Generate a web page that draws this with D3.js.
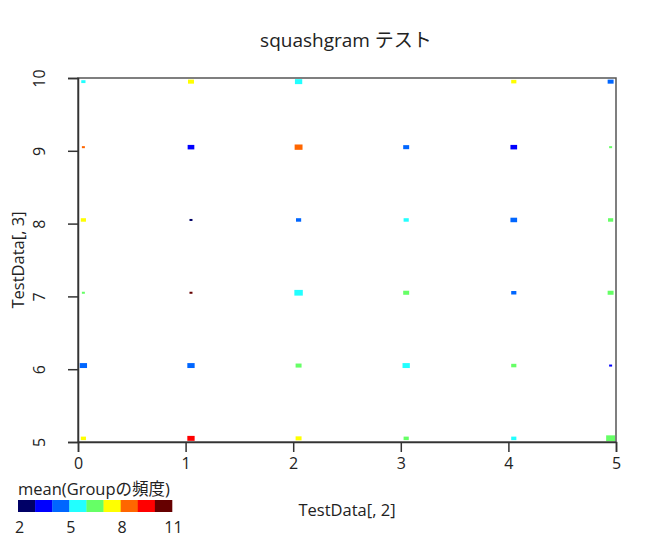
<!DOCTYPE html>
<html>
<head>
<meta charset="utf-8">
<script src="https://cdn.jsdelivr.net/npm/d3@7"></script>
<style>
  html, body { margin: 0; padding: 0; background: #fff; }
  svg { display: block; }
  text { font-family: "Open Sans", "Noto Sans CJK JP", sans-serif; fill: #222; }
</style>
</head>
<body>
<svg id="chart" width="657" height="541"></svg>
<script>
// ---- data ----
const titleText = "squashgram テスト";
const xLabel = "TestData[, 2]";
const yLabel = "TestData[, 3]";
const legendTitle = "mean(Groupの頻度)";

const xTicks = [0, 1, 2, 3, 4, 5];
const yTicks = [5, 6, 7, 8, 9, 10];
const legendBreaks = [2, 3, 4, 5, 6, 7, 8, 9, 10, 11];
const legendLabels = [2, 5, 8, 11];
const palette = ["#000066", "#0000FF", "#0066FF", "#22FFFF", "#66FF66",
                 "#FFFF00", "#FF6600", "#FF0000", "#660000"];

// one entry per occupied bin
const binX     = [0, 1, 2, 4, 5,   0, 1, 2, 3, 4, 5,   0, 1, 2, 3, 4, 5,   0, 1, 2, 3, 4, 5,   0, 1, 2, 3, 4, 5,   0, 1, 2, 3, 4, 5];
const binY     = [10,10,10,10,10,  9, 9, 9, 9, 9, 9,   8, 8, 8, 8, 8, 8,   7, 7, 7, 7, 7, 7,   6, 6, 6, 6, 6, 6,   5, 5, 5, 5, 5, 5];
const binCount = [2, 4, 6, 3, 4,   1, 5, 7, 4, 5, 1,   3, 1, 3, 3, 5, 3,   1, 1, 8, 4, 3, 4,   6, 6, 4, 6, 3, 1,   3, 6, 4, 3, 3, 9];
const binMean  = [5.5,7.5,5.5,7.5,4.5,  8.5,3.5,8.5,4.5,3.5,6.5,  7.5,2.5,4.5,5.5,4.5,6.5,
                  6.5,10.5,5.5,6.5,4.5,6.5,  4.5,4.5,6.5,5.5,6.5,3.5,  7.5,9.5,7.5,6.5,5.5,6.5];

// ---- layout ----
const svg = d3.select("#chart");
const L = 78, R = 616, T = 78, B = 442;
const nx = 50, ny = 50;          // squashgram bins across each range
const shrink = 13;               // count at which a rectangle fills its bin

const x = d3.scaleLinear().domain([0, 5]).range([L, R]);
const y = d3.scaleLinear().domain([5, 10]).range([B, T]);
const color = d3.scaleQuantize().domain([2, 11]).range(palette);

const bwX = 5 / nx, bwY = 5 / ny;
const binCenter = (v, lo, hi, w) => {
  const i = Math.min(Math.floor((v - lo) / w), Math.round((hi - lo) / w) - 1);
  return lo + (i + 0.5) * w;
};

const cells = binX.map((v, i) => ({
  cx: binCenter(v, 0, 5, bwX),
  cy: binCenter(binY[i], 5, 10, bwY),
  n: binCount[i],
  m: binMean[i]
}));

// title
svg.append("text").attr("x", 346).attr("y", 47).attr("text-anchor", "middle")
  .style("font-size", "19px").text(titleText);

// rectangles
const fullW = x(bwX) - x(0), fullH = y(5) - y(5 + bwY);
const frac = n => Math.min(1, Math.sqrt(n / shrink));
svg.append("g").selectAll("rect").data(cells).join("rect")
  .attr("x", d => x(d.cx) - fullW * frac(d.n) / 2)
  .attr("y", d => y(d.cy) - fullH * frac(d.n) / 2)
  .attr("width", d => fullW * frac(d.n))
  .attr("height", d => fullH * frac(d.n))
  .attr("fill", d => color(d.m));

// box
svg.append("rect").attr("x", L).attr("y", T).attr("width", R - L).attr("height", B - T)
  .attr("fill", "none").attr("stroke", "#555").attr("stroke-width", 1.5);

// x axis
const gx = svg.append("g").attr("transform", `translate(0,${B})`)
  .call(d3.axisBottom(x).tickValues(xTicks).tickSize(10).tickPadding(6).tickFormat(d3.format("d")));
gx.selectAll("path,line").attr("stroke", "#333").attr("stroke-width", 1.5);
gx.selectAll("text").style("font-size", "16px").attr("fill", "#222")
  .style("font-family", '"Open Sans", sans-serif');

// y axis
const gy = svg.append("g").attr("transform", `translate(${L},0)`)
  .call(d3.axisLeft(y).tickValues(yTicks).tickSize(10).tickFormat(d3.format("d")));
gy.selectAll("path,line").attr("stroke", "#333").attr("stroke-width", 1.5);
gy.selectAll("text")
  .attr("x", null).attr("dy", null)
  .attr("text-anchor", "middle")
  .attr("transform", "translate(-39,0) rotate(-90)")
  .attr("y", 6)
  .style("font-size", "16px").attr("fill", "#222")
  .style("font-family", '"Open Sans", sans-serif');

// axis titles
svg.append("text").attr("x", 347).attr("y", 516).attr("text-anchor", "middle")
  .style("font-size", "16.5px").text(xLabel);
svg.append("text").attr("transform", `translate(18,${(T + B) / 2}) rotate(-90)`)
  .attr("text-anchor", "middle").attr("dy", "0.35em")
  .style("font-size", "16.5px").text(yLabel);

// legend
const lx = d3.scaleLinear().domain([2, 11]).range([18, 172]);
svg.append("text").attr("x", 18).attr("y", 495).style("font-size", "16.5px").text(legendTitle);
svg.append("g").selectAll("rect").data(legendBreaks.slice(0, -1)).join("rect")
  .attr("x", d => lx(d)).attr("y", 500)
  .attr("width", d => lx(d + 1) - lx(d) + 0.3).attr("height", 12)
  .attr("fill", d => color(d + 0.5));
svg.append("g").selectAll("text").data(legendLabels).join("text")
  .attr("x", d => lx(d) + 1.5).attr("y", 533).attr("text-anchor", "middle")
  .style("font-size", "16px").text(d => d);
</script>
</body>
</html>
